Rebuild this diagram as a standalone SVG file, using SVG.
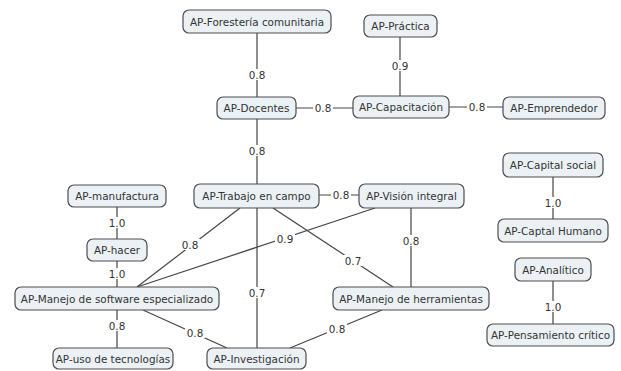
<svg xmlns="http://www.w3.org/2000/svg" width="621" height="371" viewBox="0 0 621 371">
<style>
.n rect{fill:#ebf1f5;stroke:#4d4d4d;stroke-width:1.2}
text{font-family:"DejaVu Sans",Verdana,sans-serif;font-size:10.4px;fill:#333;text-anchor:middle}
.e line{stroke:#444;stroke-width:1.2}
.lb rect{fill:#fff}
</style>
<rect width="621" height="371" fill="#fff"/>
<g id="connectors">
<g class="e">
<line x1="257" y1="33" x2="257" y2="97"/>
<line x1="400" y1="37" x2="400" y2="96"/>
<line x1="296" y1="108" x2="353" y2="108"/>
<line x1="449" y1="107" x2="503" y2="107"/>
<line x1="257" y1="119" x2="257" y2="184"/>
<line x1="319" y1="195" x2="359" y2="195"/>
<line x1="117" y1="207" x2="117" y2="239"/>
<line x1="117" y1="261" x2="117" y2="287"/>
<line x1="117" y1="310" x2="117" y2="348"/>
<line x1="240" y1="208" x2="137" y2="287"/>
<line x1="375" y1="208" x2="137" y2="287"/>
<line x1="257" y1="208" x2="257" y2="348"/>
<line x1="273" y1="208" x2="393" y2="287"/>
<line x1="411" y1="208" x2="411" y2="287"/>
<line x1="143" y1="310" x2="227" y2="348"/>
<line x1="382" y1="310" x2="290" y2="348"/>
<line x1="553" y1="177" x2="553" y2="219"/>
<line x1="553" y1="281" x2="553" y2="324"/>
</g>
<g class="lb">
<rect x="247" y="69" width="20" height="11"/><text x="257" y="79">0.8</text>
<rect x="390" y="60" width="20" height="11"/><text x="400" y="70">0.9</text>
<rect x="313" y="102" width="20" height="11"/><text x="323" y="112">0.8</text>
<rect x="467" y="101" width="20" height="11"/><text x="477" y="111">0.8</text>
<rect x="247" y="145" width="20" height="11"/><text x="257" y="155">0.8</text>
<rect x="331" y="189" width="20" height="11"/><text x="341" y="199">0.8</text>
<rect x="107" y="217" width="20" height="11"/><text x="117" y="227">1.0</text>
<rect x="107" y="268" width="20" height="11"/><text x="117" y="278">1.0</text>
<rect x="107" y="320" width="20" height="11"/><text x="117" y="330">0.8</text>
<rect x="180" y="239" width="20" height="11"/><text x="190" y="249">0.8</text>
<rect x="275" y="233" width="20" height="11"/><text x="285" y="243">0.9</text>
<rect x="247" y="287" width="20" height="11"/><text x="257" y="297">0.7</text>
<rect x="343" y="255" width="20" height="11"/><text x="353" y="265">0.7</text>
<rect x="401" y="235" width="20" height="11"/><text x="411" y="245">0.8</text>
<rect x="185" y="327" width="20" height="11"/><text x="195" y="337">0.8</text>
<rect x="327" y="323" width="20" height="11"/><text x="337" y="333">0.8</text>
<rect x="543" y="197" width="20" height="11"/><text x="553" y="207">1.0</text>
<rect x="543" y="301" width="20" height="11"/><text x="553" y="311">1.0</text>
</g>
</g>
<g id="n1" class="n"><rect x="183" y="10" width="148" height="23" rx="6"/><text x="257" y="25.5">AP-Forestería comunitaria</text></g>
<g id="n2" class="n"><rect x="364" y="15" width="73" height="22" rx="6"/><text x="400.5" y="30">AP-Práctica</text></g>
<g id="n3" class="n"><rect x="217" y="97" width="79" height="22" rx="6"/><text x="256.5" y="112">AP-Docentes</text></g>
<g id="n4" class="n"><rect x="353" y="96" width="96" height="22" rx="6"/><text x="401" y="111">AP-Capacitación</text></g>
<g id="n5" class="n"><rect x="503" y="97" width="102" height="22" rx="6"/><text x="554" y="112">AP-Emprendedor</text></g>
<g id="n6" class="n"><rect x="503" y="153" width="100" height="24" rx="6"/><text x="553" y="169">AP-Capital social</text></g>
<g id="n7" class="n"><rect x="68" y="185" width="98" height="22" rx="6"/><text x="117" y="200">AP-manufactura</text></g>
<g id="n8" class="n"><rect x="194" y="184" width="125" height="24" rx="6"/><text x="256.5" y="199.5">AP-Trabajo en campo</text></g>
<g id="n9" class="n"><rect x="359" y="184" width="105" height="24" rx="6"/><text x="411.5" y="199.5">AP-Visión integral</text></g>
<g id="n10" class="n"><rect x="498" y="219" width="110" height="23" rx="6"/><text x="553" y="234.5">AP-Captal Humano</text></g>
<g id="n11" class="n"><rect x="87" y="239" width="60" height="22" rx="6"/><text x="117" y="254">AP-hacer</text></g>
<g id="n12" class="n"><rect x="515" y="258" width="76" height="23" rx="6"/><text x="553" y="273.5">AP-Analítico</text></g>
<g id="n13" class="n"><rect x="15" y="287" width="204" height="23" rx="6"/><text x="117" y="302.5">AP-Manejo de software especializado</text></g>
<g id="n14" class="n"><rect x="333" y="287" width="156" height="23" rx="6"/><text x="411" y="302.5">AP-Manejo de herramientas</text></g>
<g id="n15" class="n"><rect x="487" y="324" width="127" height="22" rx="6"/><text x="550.5" y="339">AP-Pensamiento crítico</text></g>
<g id="n16" class="n"><rect x="53" y="348" width="120" height="21" rx="6"/><text x="113" y="362.5">AP-uso de tecnologías</text></g>
<g id="n17" class="n"><rect x="207" y="348" width="99" height="21" rx="6"/><text x="256.5" y="362.5">AP-Investigación</text></g>
</svg>
